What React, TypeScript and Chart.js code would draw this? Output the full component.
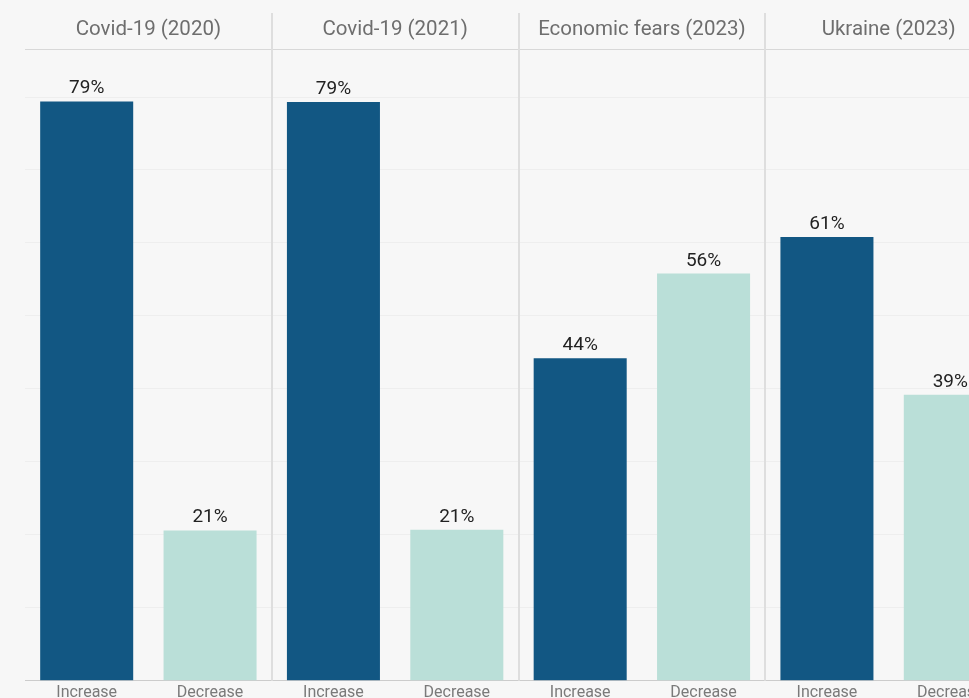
import React, { useEffect, useRef } from "react";
import { Chart, registerables } from "chart.js";

Chart.register(...registerables);

const panelTitles = ["Covid-19 (2020)", "Covid-19 (2021)", "Economic fears (2023)", "Ukraine (2023)"];
const categories = ["Increase", "Decrease", "Increase", "Decrease", "Increase", "Decrease", "Increase", "Decrease"];
const increaseValues = [79.4, 79.3, 44.2, 60.8];
const decreaseValues = [20.6, 20.7, 55.8, 39.2];
const yMax = 80;
const yStep = 10;

const BG = "#f7f7f7";
const DARK = "#125783";
const LIGHT = "#badfd8";

const W = 1020;
const H = 720;

const overlayPlugin = {
  id: "overlay",
  beforeDraw(chart: any) {
    const { ctx } = chart;
    ctx.save();
    ctx.fillStyle = BG;
    ctx.fillRect(0, 0, chart.width, chart.height);
    ctx.restore();
  },
  afterDraw(chart: any) {
    const { ctx, chartArea } = chart;
    const x = chart.scales.x;
    ctx.save();
    // header line
    ctx.strokeStyle = "#d8d8d8";
    ctx.lineWidth = 1;
    ctx.beginPath();
    ctx.moveTo(chartArea.left, 49.5);
    ctx.lineTo(chartArea.right, 49.5);
    ctx.stroke();
    // separators
    ctx.strokeStyle = "#dedede";
    ctx.lineWidth = 2;
    for (let p = 1; p < panelTitles.length; p++) {
      const sx = Math.round((x.getPixelForValue(2 * p - 1) + x.getPixelForValue(2 * p)) / 2);
      ctx.beginPath();
      ctx.moveTo(sx, 13);
      ctx.lineTo(sx, chartArea.bottom);
      ctx.stroke();
    }
    // titles
    ctx.fillStyle = "#6e6e6e";
    ctx.font = "20.5px Roboto";
    ctx.textAlign = "center";
    ctx.textBaseline = "middle";
    panelTitles.forEach((t, p) => {
      const cx = (x.getPixelForValue(2 * p) + x.getPixelForValue(2 * p + 1)) / 2;
      ctx.fillText(t, cx, 30);
    });
    // value labels
    ctx.fillStyle = "#222222";
    ctx.font = "19px Roboto";
    ctx.textBaseline = "alphabetic";
    chart.data.datasets.forEach((ds: any, di: number) => {
      const meta = chart.getDatasetMeta(di);
      meta.data.forEach((el: any, i: number) => {
        const v = ds.data[i];
        if (v == null) return;
        ctx.fillText(Math.round(v) + "%", el.x, el.y - 8);
      });
    });
    ctx.restore();
  },
};

export default function App() {
  const ref = useRef<HTMLCanvasElement | null>(null);
  useEffect(() => {
    document.body.style.overflow = "hidden";
    const incData: (number | null)[] = [];
    const decData: (number | null)[] = [];
    increaseValues.forEach((v, i) => {
      incData.push(v, null);
      decData.push(null, decreaseValues[i]);
    });
    const chart = new Chart(ref.current as HTMLCanvasElement, {
      type: "bar",
      data: {
        labels: categories,
        datasets: [
          { label: "Increase", data: incData, backgroundColor: DARK, grouped: false, barPercentage: 0.754, categoryPercentage: 1 } as any,
          { label: "Decrease", data: decData, backgroundColor: LIGHT, grouped: false, barPercentage: 0.754, categoryPercentage: 1 } as any,
        ],
      },
      options: {
        responsive: false,
        animation: false,
        devicePixelRatio: 1,
        layout: { padding: { left: 25, right: 8, top: 97, bottom: 14 } },
        plugins: { legend: { display: false }, tooltip: { enabled: false } },
        scales: {
          x: {
            grid: { display: false, drawTicks: false },
            border: { display: true, color: "#cccccc", width: 1 },
            ticks: { color: "#7a7a7a", font: { family: "Roboto", size: 16 }, padding: 3, maxRotation: 0, autoSkip: false },
          },
          y: {
            min: 0,
            max: yMax,
            ticks: { display: false, stepSize: yStep },
            grid: { color: "#eeeeee", lineWidth: 1, drawTicks: false },
            border: { display: false },
          },
        },
      },
      plugins: [overlayPlugin],
    });
    return () => chart.destroy();
  }, []);
  return (
    <div style={{ position: "fixed", left: 0, top: 0, width: W, height: H, background: BG }}>
      <canvas ref={ref} width={W} height={H} style={{ display: "block" }} />
    </div>
  );
}
